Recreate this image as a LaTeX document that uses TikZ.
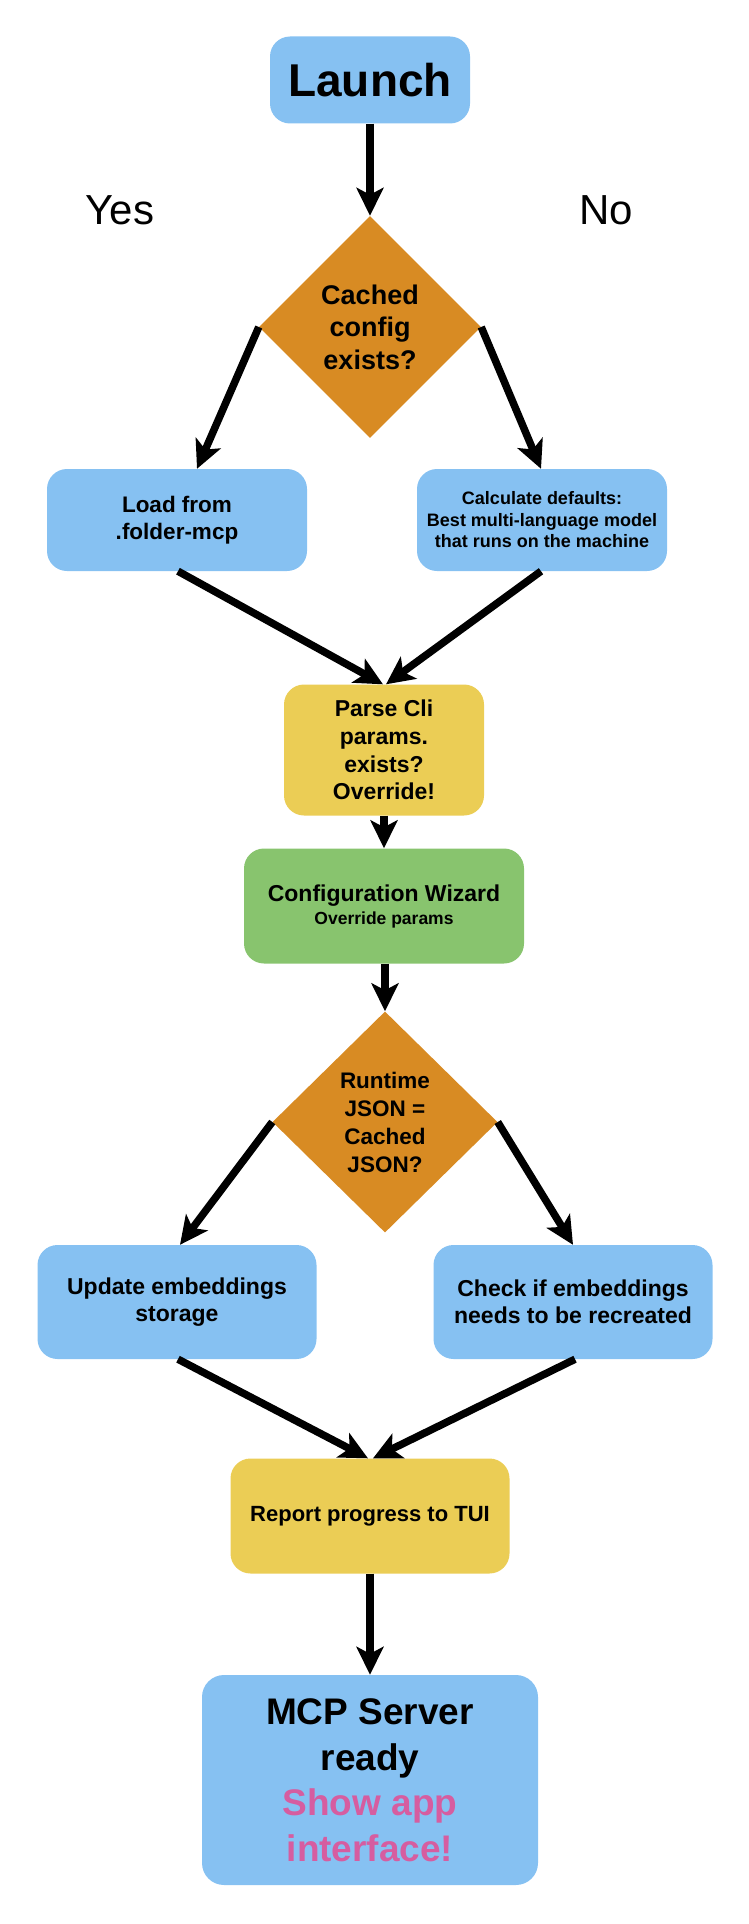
\documentclass[tikz,border=0pt]{standalone}
\usepackage{fontspec}
\setmainfont{Liberation Sans}
\usetikzlibrary{arrows.meta,shapes.geometric}
\definecolor{boxblue}{HTML}{86C1F2}
\definecolor{boxyellow}{HTML}{EBCD55}
\definecolor{boxgreen}{HTML}{88C46E}
\definecolor{decorange}{HTML}{D88B23}
\definecolor{showpink}{HTML}{D65DA0}
\begin{document}
\begin{tikzpicture}[x=1pt,y=-1pt,
  box/.style={rectangle, rounded corners=20pt, draw=none, inner sep=0pt, align=center, text=black},
  bluebox/.style={box, fill=boxblue},
  yellowbox/.style={box, fill=boxyellow},
  greenbox/.style={box, fill=boxgreen},
  decision/.style={diamond, aspect=1, fill=decorange, draw=none, inner sep=0pt, align=center, text=black},
  flow/.style={draw=black, line width=7.5pt, -{Stealth[length=28pt,width=27pt,inset=7pt]}},
  branchlabel/.style={anchor=base, font=\fontsize{42}{50}\selectfont}
]
\useasboundingbox (0,0) rectangle (748,1924);

% nodes
\node[bluebox, minimum width=200pt, minimum height=87pt,
  font=\bfseries\fontsize{46}{55}\selectfont] (launch) at (370,80) {Launch};

\node[branchlabel] (yes) at (120,224) {Yes};
\node[branchlabel] (no) at (606,224) {No};

\node[decision, minimum width=222pt, minimum height=222pt,
  font=\bfseries\fontsize{27}{32.5}\selectfont] (d1) at (370,327) {Cached\\config\\exists?};

\node[bluebox, minimum width=260pt, minimum height=102pt,
  font=\bfseries\fontsize{22.5}{27}\selectfont] (load) at (177,520) {Load from\\.folder-mcp};

\node[bluebox, minimum width=250pt, minimum height=102pt,
  font=\bfseries\fontsize{18}{21.5}\selectfont] (calc) at (542,520)
  {Calculate defaults:\\Best multi-language model\\that runs on the machine};

\node[yellowbox, minimum width=200pt, minimum height=131pt,
  font=\bfseries\fontsize{23}{27.8}\selectfont] (parse) at (384,750)
  {Parse Cli\\params.\\exists?\\Override!};

\node[greenbox, minimum width=280pt, minimum height=115pt,
  font=\bfseries\fontsize{23}{23}\selectfont] (config) at (384,906)
  {Configuration Wizard\\{\fontsize{17.5}{23}\selectfont Override params}};

\node[decision, minimum width=225pt, minimum height=221pt,
  font=\bfseries\fontsize{22.5}{28}\selectfont] (d2) at (385,1122)
  {Runtime\\JSON =\\Cached\\JSON?};

\node[bluebox, minimum width=279pt, minimum height=114pt,
  font=\bfseries\fontsize{23}{27.5}\selectfont] (update) at (177,1302)
  {Update embeddings\\storage};

\node[bluebox, minimum width=279pt, minimum height=114pt,
  font=\bfseries\fontsize{23}{27.5}\selectfont] (check) at (573,1302)
  {Check if embeddings\\needs to be recreated};

\node[yellowbox, minimum width=279pt, minimum height=115pt,
  font=\bfseries\fontsize{22}{26}\selectfont] (report) at (370,1516)
  {Report progress to TUI};

\node[bluebox, minimum width=336pt, minimum height=210pt, rounded corners=22pt,
  font=\bfseries\fontsize{37}{45.5}\selectfont] (mcp) at (370,1780)
  {MCP Server\\ready\\\textcolor{showpink}{Show app}\\\textcolor{showpink}{interface!}};

% connectors
\draw[flow] (launch.south) -- (d1.north);
\draw[flow] (d1.west) -- ([xshift=20pt]load.north);
\draw[flow] (d1.east) -- ([xshift=-1pt]calc.north);
\draw[flow] ([xshift=1pt]load.south) -- ([xshift=-1pt]parse.north);
\draw[flow] ([xshift=-1pt]calc.south) -- ([xshift=2pt]parse.north);
\draw[flow] (parse.south) -- (config.north);
\draw[flow] ([xshift=1pt]config.south) -- (d2.north);
\draw[flow] (d2.west) -- ([xshift=3pt]update.north);
\draw[flow] (d2.east) -- (check.north);
\draw[flow] ([xshift=1pt]update.south) -- ([xshift=-2pt]report.north);
\draw[flow] ([xshift=2pt]check.south) -- ([xshift=3pt]report.north);
\draw[flow] (report.south) -- (mcp.north);
\end{tikzpicture}
\end{document}
